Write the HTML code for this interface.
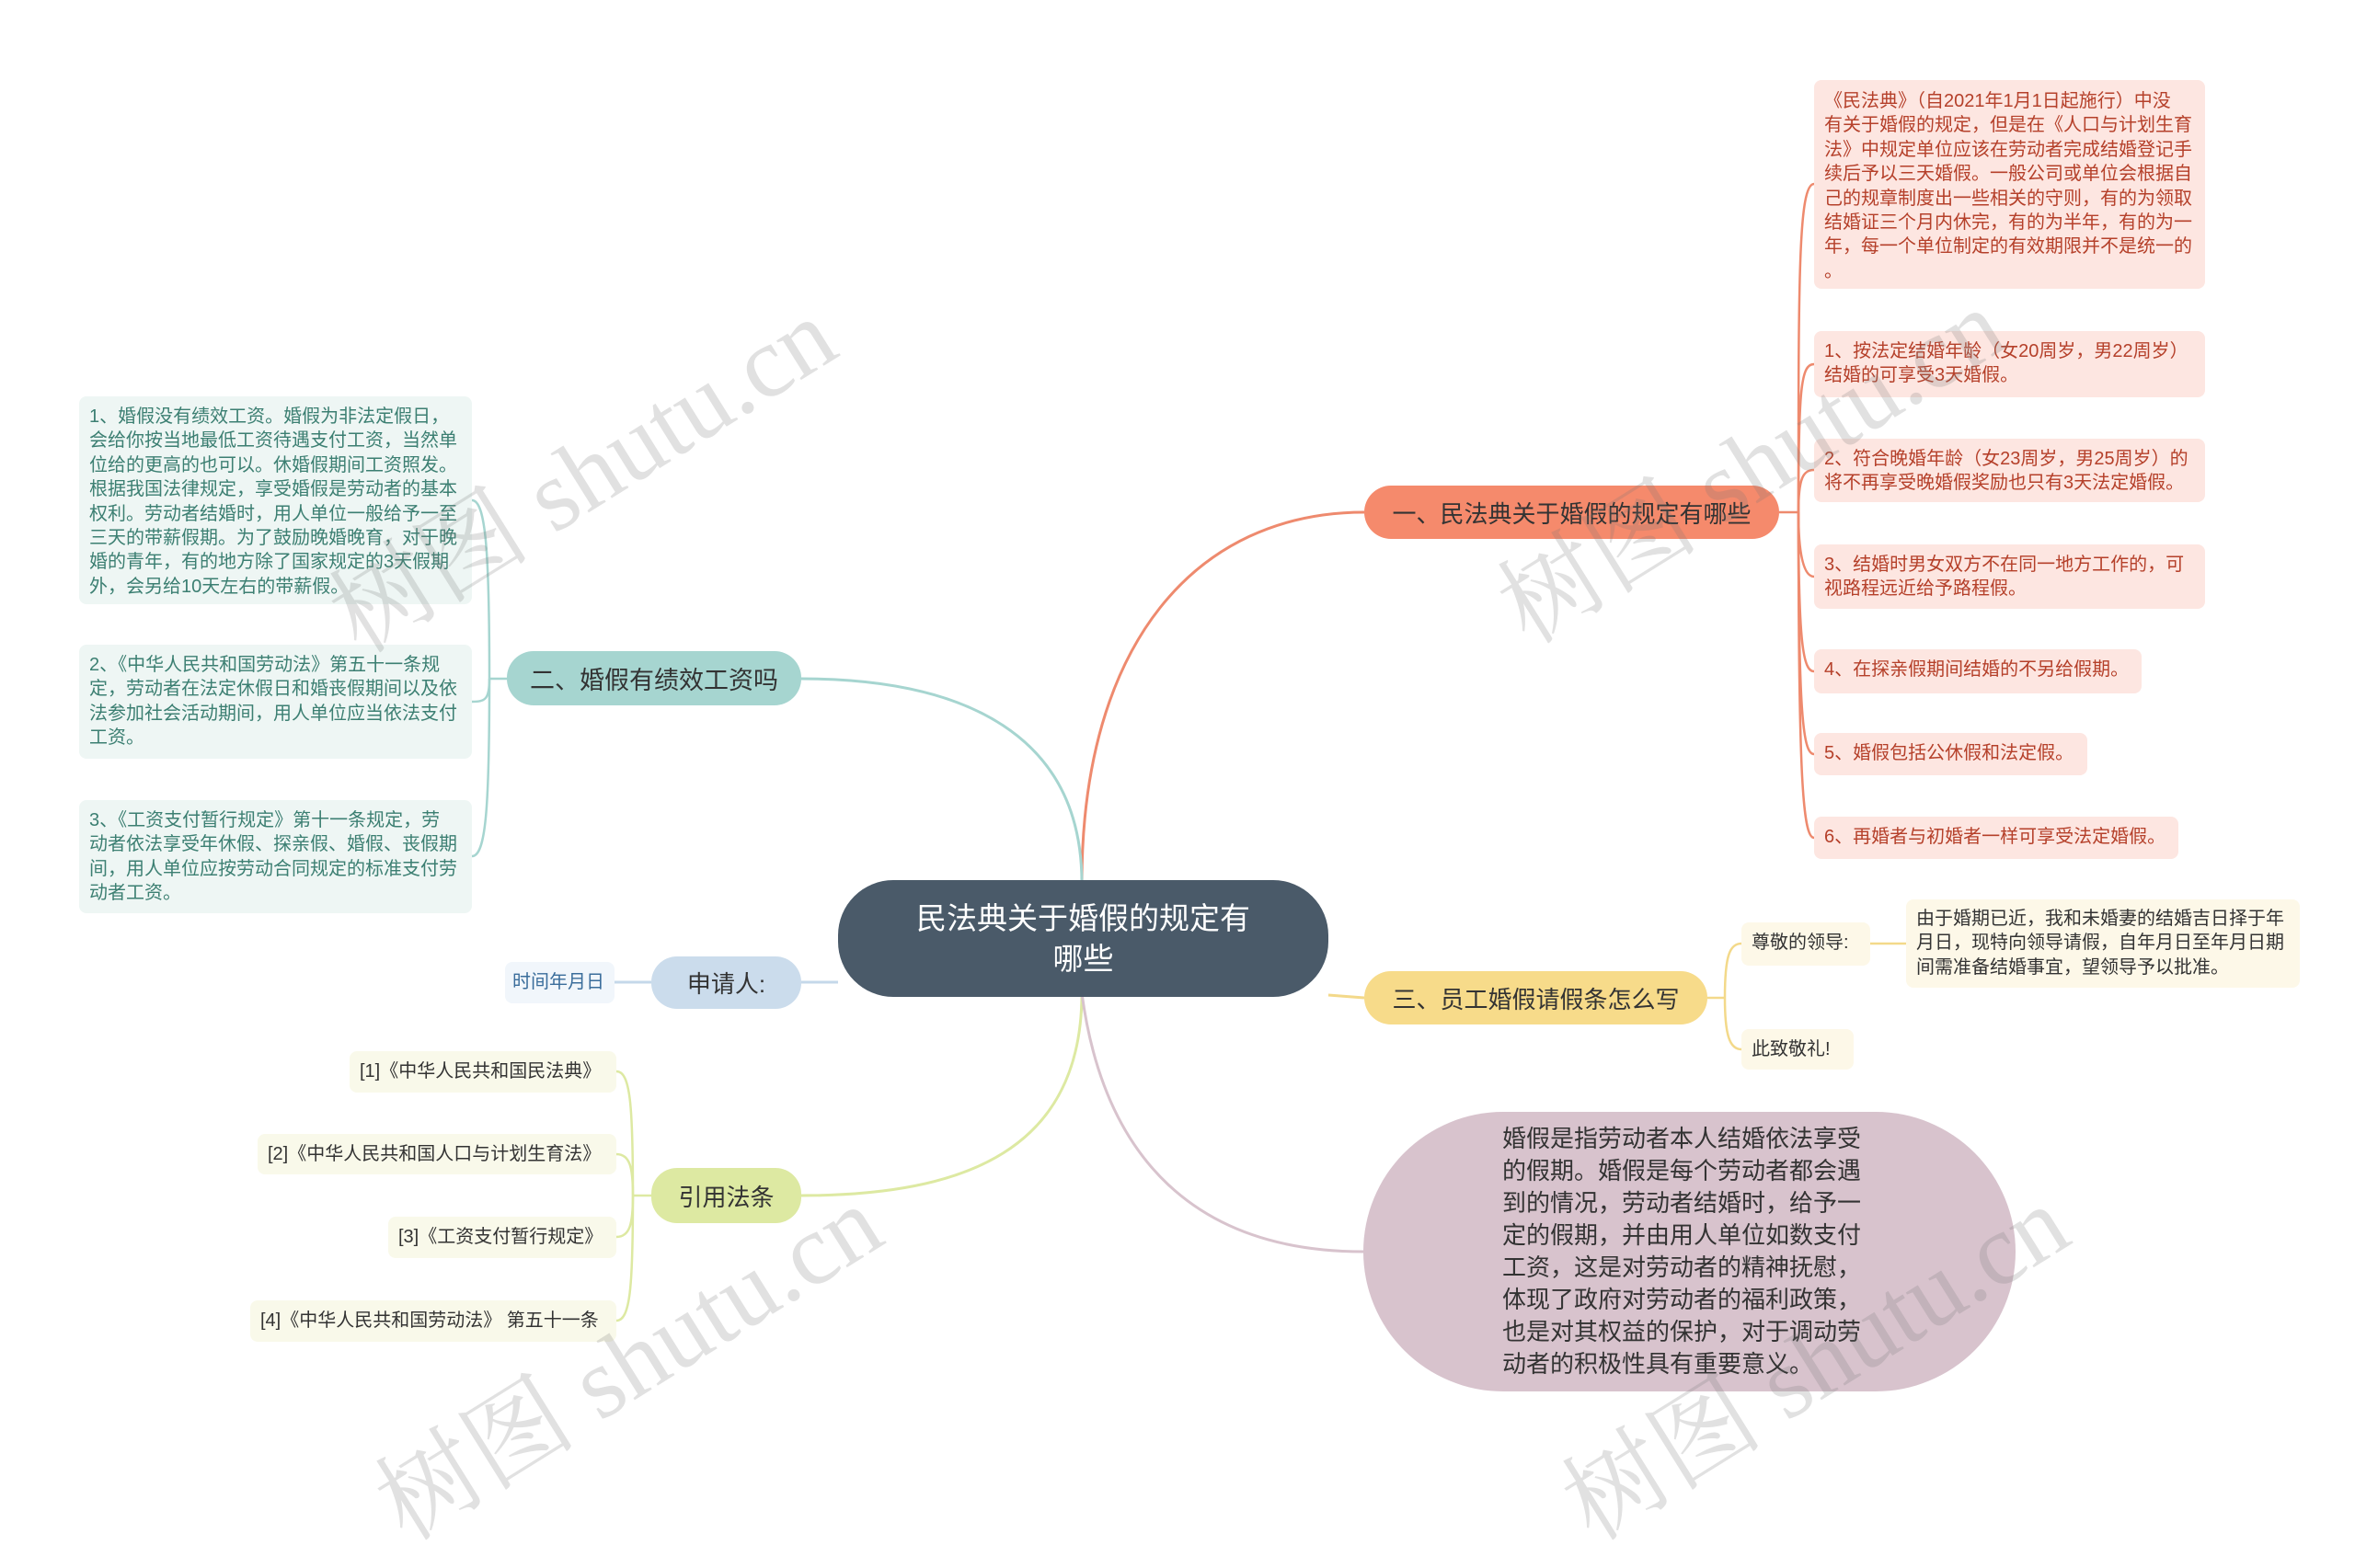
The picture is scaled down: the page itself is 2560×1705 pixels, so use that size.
<!DOCTYPE html>
<html><head><meta charset="utf-8">
<style>
*{margin:0;padding:0;box-sizing:border-box}
body{width:2560px;height:1584px;background:#fff;position:relative;overflow:hidden;font-family:"Liberation Sans","Noto Sans CJK SC",sans-serif}
.n{position:absolute;display:flex;align-items:center;justify-content:center;white-space:nowrap}
.b{position:absolute;white-space:nowrap;border-radius:8px;font-size:20px;line-height:26.4px;padding:9px 11px}
.p{background:#fde6e1;color:#b5402a}
.g{background:#eef6f4;color:#3c7f72}
.y{background:#f9f9ea;color:#333}
.o{background:#fdf8e8;color:#333}
.wm{position:absolute;font-family:"Liberation Serif","Noto Serif CJK SC",serif;font-size:110px;color:rgba(120,120,120,0.22);transform:rotate(-32deg);white-space:nowrap;transform-origin:center}
</style></head><body>
<svg width="2560" height="1584" style="position:absolute;left:0;top:0" fill="none" stroke-width="3">
<path d="M1176 960 C1176 700 1300 557 1483 557" stroke="#ee8a6e"/>
<path d="M1176 960 C1176 800 1050 738 871 738" stroke="#a6d5d0"/>
<path d="M911 1068 L871 1068" stroke="#c5d8ea"/>
<path d="M1176 1080 C1176 1250 1050 1300 871 1300" stroke="#dde9a2"/>
<path d="M1176 1080 C1200 1260 1300 1361 1482 1361" stroke="#d8c3cd"/>
<path d="M1444 1082 L1483 1085" stroke="#f3d98a"/>
<path d="M668 1068 L708 1068" stroke="#c5d8ea"/>
<g stroke="#ee8a6e" stroke-width="2.5">
<path d="M1934 557 L1955 557"/>
<path d="M1955 557 C1955 300 1955 200 1972 200"/>
<path d="M1955 557 C1955 420 1958 396 1972 396"/>
<path d="M1955 557 C1955 520 1960 511 1972 511"/>
<path d="M1955 557 C1955 600 1960 627 1972 627"/>
<path d="M1955 557 C1955 700 1960 730 1972 730"/>
<path d="M1955 557 C1955 780 1960 820 1972 820"/>
<path d="M1955 557 C1955 850 1960 911 1972 911"/>
</g>
<g stroke="#a6d5d0" stroke-width="2.5">
<path d="M551 738 L532 738"/>
<path d="M532 738 C532 600 528 544 513 544"/>
<path d="M532 738 C532 760 528 763 513 763"/>
<path d="M532 738 C532 880 528 931 513 931"/>
</g>
<g stroke="#dde9a2" stroke-width="2.5">
<path d="M708 1300 L688 1300"/>
<path d="M688 1300 C688 1200 685 1165 670 1165"/>
<path d="M688 1300 C688 1270 685 1255 670 1255"/>
<path d="M688 1300 C688 1330 685 1345 670 1345"/>
<path d="M688 1300 C688 1400 685 1436 670 1436"/>
</g>
<g stroke="#f3d98a" stroke-width="2.5">
<path d="M1856 1085 L1875 1085"/>
<path d="M1875 1085 C1875 1040 1880 1026 1893 1026"/>
<path d="M1875 1085 C1875 1125 1880 1141 1893 1141"/>
<path d="M2033 1026 L2072 1026"/>
</g>
</svg>

<div class="n" style="left:911px;top:957px;width:533px;height:127px;background:#4a5a69;border-radius:60px;color:#fff;font-size:33px;line-height:44px;text-align:center;white-space:normal">民法典关于婚假的规定有<br>哪些</div>

<div class="n" style="left:1483px;top:528px;width:451px;height:58px;background:#f58a6c;border-radius:29px;font-size:26px;color:#333">一、民法典关于婚假的规定有哪些</div>
<div class="n" style="left:551px;top:708px;width:320px;height:59px;background:#a6d5d0;border-radius:29px;font-size:27px;color:#333">二、婚假有绩效工资吗</div>
<div class="n" style="left:708px;top:1040px;width:163px;height:57px;background:#cbdcec;border-radius:28px;font-size:26px;color:#333">申请人:</div>
<div class="n" style="left:708px;top:1270px;width:163px;height:60px;background:#dde9a2;border-radius:28px;font-size:26px;color:#333">引用法条</div>
<div class="n" style="left:1483px;top:1056px;width:373px;height:58px;background:#f7db8a;border-radius:29px;font-size:26px;color:#333">三、员工婚假请假条怎么写</div>

<div class="b p" style="left:1972px;top:87px;width:425px;height:227px;padding-top:10px">《民法典》（自2021年1月1日起施行）中没<br>有关于婚假的规定，但是在《人口与计划生育<br>法》中规定单位应该在劳动者完成结婚登记手<br>续后予以三天婚假。一般公司或单位会根据自<br>己的规章制度出一些相关的守则，有的为领取<br>结婚证三个月内休完，有的为半年，有的为一<br>年，每一个单位制定的有效期限并不是统一的<br>。</div>
<div class="b p" style="left:1972px;top:360px;width:425px;height:72px">1、按法定结婚年龄（女20周岁，男22周岁）<br>结婚的可享受3天婚假。</div>
<div class="b p" style="left:1972px;top:477px;width:425px;height:69px">2、符合晚婚年龄（女23周岁，男25周岁）的<br>将不再享受晚婚假奖励也只有3天法定婚假。</div>
<div class="b p" style="left:1972px;top:592px;width:425px;height:70px">3、结婚时男女双方不在同一地方工作的，可<br>视路程远近给予路程假。</div>
<div class="b p" style="left:1972px;top:706px;width:356px;height:48px">4、在探亲假期间结婚的不另给假期。</div>
<div class="b p" style="left:1972px;top:797px;width:297px;height:46px">5、婚假包括公休假和法定假。</div>
<div class="b p" style="left:1972px;top:888px;width:396px;height:46px">6、再婚者与初婚者一样可享受法定婚假。</div>

<div class="b g" style="left:86px;top:431px;width:427px;height:226px">1、婚假没有绩效工资。婚假为非法定假日，<br>会给你按当地最低工资待遇支付工资，当然单<br>位给的更高的也可以。休婚假期间工资照发。<br>根据我国法律规定，享受婚假是劳动者的基本<br>权利。劳动者结婚时，用人单位一般给予一至<br>三天的带薪假期。为了鼓励晚婚晚育，对于晚<br>婚的青年，有的地方除了国家规定的3天假期<br>外，会另给10天左右的带薪假。</div>
<div class="b g" style="left:86px;top:701px;width:427px;height:124px">2、《中华人民共和国劳动法》第五十一条规<br>定，劳动者在法定休假日和婚丧假期间以及依<br>法参加社会活动期间，用人单位应当依法支付<br>工资。</div>
<div class="b g" style="left:86px;top:870px;width:427px;height:123px">3、《工资支付暂行规定》第十一条规定，劳<br>动者依法享受年休假、探亲假、婚假、丧假期<br>间，用人单位应按劳动合同规定的标准支付劳<br>动者工资。</div>

<div class="b" style="left:549px;top:1046px;width:119px;height:45px;background:#f1f6fb;color:#3a6d9b;padding:9px 8px">时间年月日</div>

<div class="b y" style="left:380px;top:1143px;width:290px;height:45px">[1]《中华人民共和国民法典》</div>
<div class="b y" style="left:280px;top:1233px;width:390px;height:44px">[2]《中华人民共和国人口与计划生育法》</div>
<div class="b y" style="left:422px;top:1323px;width:248px;height:45px">[3]《工资支付暂行规定》</div>
<div class="b y" style="left:272px;top:1414px;width:398px;height:45px">[4]《中华人民共和国劳动法》 第五十一条</div>

<div class="b o" style="left:1893px;top:1003px;width:140px;height:47px">尊敬的领导:</div>
<div class="b o" style="left:2072px;top:978px;width:428px;height:96px;padding-top:8px">由于婚期已近，我和未婚妻的结婚吉日择于年<br>月日，现特向领导请假，自年月日至年月日期<br>间需准备结婚事宜，望领导予以批准。</div>
<div class="b o" style="left:1893px;top:1119px;width:122px;height:44px">此致敬礼!</div>

<div style="position:absolute;left:1482px;top:1209px;width:709px;height:304px;background:#d8c3cd;border-radius:152px/152px"></div>
<div style="position:absolute;left:1633px;top:1221px;font-size:26px;line-height:35px;color:#333;white-space:nowrap">婚假是指劳动者本人结婚依法享受<br>的假期。婚假是每个劳动者都会遇<br>到的情况，劳动者结婚时，给予一<br>定的假期，并由用人单位如数支付<br>工资，这是对劳动者的精神抚慰，<br>体现了政府对劳动者的福利政策，<br>也是对其权益的保护，对于调动劳<br>动者的积极性具有重要意义。</div>

<div class="wm" style="left:320px;top:430px">树图 shutu.cn</div>
<div class="wm" style="left:1590px;top:420px">树图 shutu.cn</div>
<div class="wm" style="left:370px;top:1395px">树图 shutu.cn</div>
<div class="wm" style="left:1660px;top:1395px">树图 shutu.cn</div>
</body></html>
